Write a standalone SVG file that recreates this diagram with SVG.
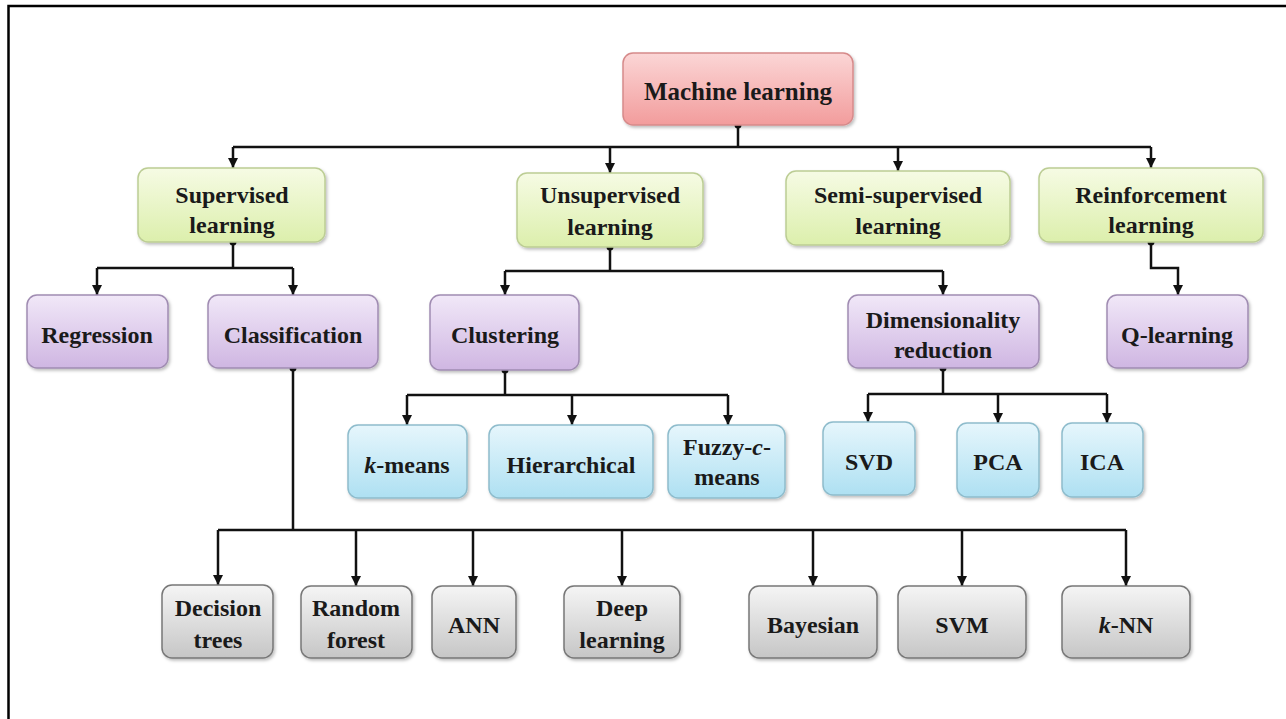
<svg xmlns="http://www.w3.org/2000/svg" width="1286" height="719" viewBox="0 0 1286 719">
  <defs>
    <linearGradient id="gPink" x1="0" y1="0" x2="0" y2="1">
      <stop offset="0" stop-color="#fbd6d6"/>
      <stop offset="1" stop-color="#f29c9c"/>
    </linearGradient>
    <linearGradient id="gGreen" x1="0" y1="0" x2="0" y2="1">
      <stop offset="0" stop-color="#f6fbe4"/>
      <stop offset="1" stop-color="#dcefac"/>
    </linearGradient>
    <linearGradient id="gPurple" x1="0" y1="0" x2="0" y2="1">
      <stop offset="0" stop-color="#f1e8f8"/>
      <stop offset="1" stop-color="#cfb6e2"/>
    </linearGradient>
    <linearGradient id="gBlue" x1="0" y1="0" x2="0" y2="1">
      <stop offset="0" stop-color="#e6f6fc"/>
      <stop offset="1" stop-color="#aee0f2"/>
    </linearGradient>
    <linearGradient id="gGray" x1="0" y1="0" x2="0" y2="1">
      <stop offset="0" stop-color="#f5f5f5"/>
      <stop offset="1" stop-color="#c6c6c6"/>
    </linearGradient>
    <filter id="shadow" x="-10%" y="-10%" width="125%" height="130%">
      <feDropShadow dx="1.5" dy="2" stdDeviation="1.5" flood-color="#000" flood-opacity="0.25"/>
    </filter>
    <marker id="arrow" markerUnits="userSpaceOnUse" markerWidth="12" markerHeight="12" viewBox="0 0 12 12" refX="6" refY="11" orient="auto-start-reverse">
      <path d="M1,1 L11,1 L6,11 Z" fill="#111" transform="rotate(-90 6 6)"/>
    </marker>
    <marker id="tip" markerUnits="userSpaceOnUse" markerWidth="12" markerHeight="12" viewBox="0 0 12 12" refX="11" refY="6" orient="auto">
      <path d="M1,1 L11,6 L1,11 Z" fill="#111"/>
    </marker>
  </defs>
  <style>
    .box { stroke-width: 1.5; filter: url(#shadow); }
    .pink { fill: url(#gPink); stroke: #d68a8a; }
    .green { fill: url(#gGreen); stroke: #bccd94; }
    .purple { fill: url(#gPurple); stroke: #a08cb2; }
    .blue { fill: url(#gBlue); stroke: #8ebccc; }
    .gray { fill: url(#gGray); stroke: #777; }
    .lbl { font-family: "Liberation Serif", "Times New Roman", serif; font-weight: bold; font-size: 24px; fill: #1a1a1a; text-anchor: middle; }
    .it { font-style: italic; }
    .wire { fill: none; stroke: #111; stroke-width: 2.5; }
    .drop { fill: none; stroke: #111; stroke-width: 2.5; marker-end: url(#tip); }
    .dot { fill: #111; }
    .frame { fill: none; stroke: #000; stroke-width: 2.5; }
  </style>

  <!-- page frame (top and left edges) -->
  <path class="frame" d="M8.5,719 V6 H1286"/>

  <!-- connectors -->
  <g id="connectors">
    <!-- machine learning to the four paradigms -->
    <path class="wire" d="M738,125 V147 M233,147 H1151"/>
    <path class="drop" d="M233,147 V168"/>
    <path class="drop" d="M610,147 V173"/>
    <path class="drop" d="M898,147 V171"/>
    <path class="drop" d="M1151,147 V168"/>
    <!-- supervised -->
    <path class="wire" d="M233,242 V268 M97,268 H293"/>
    <path class="drop" d="M97,268 V295"/>
    <path class="drop" d="M293,268 V295"/>
    <!-- unsupervised -->
    <path class="wire" d="M610,247 V271 M505,271 H943"/>
    <path class="drop" d="M505,271 V295"/>
    <path class="drop" d="M943,271 V295"/>
    <!-- reinforcement -->
    <path class="drop" d="M1151,242 V268 H1178 V295"/>
    <!-- clustering -->
    <path class="wire" d="M505,370 V395 M407,395 H728"/>
    <path class="drop" d="M407,395 V425"/>
    <path class="drop" d="M572,395 V425"/>
    <path class="drop" d="M728,395 V425"/>
    <!-- dimensionality reduction -->
    <path class="wire" d="M943,368 V394 M868,394 H1107"/>
    <path class="drop" d="M868,394 V422"/>
    <path class="drop" d="M998,394 V423"/>
    <path class="drop" d="M1107,394 V423"/>
    <!-- classification -->
    <path class="wire" d="M293,368 V530 M218,530 H1126"/>
    <path class="drop" d="M218,530 V585"/>
    <path class="drop" d="M356,530 V586"/>
    <path class="drop" d="M473,530 V586"/>
    <path class="drop" d="M622,530 V586"/>
    <path class="drop" d="M813,530 V586"/>
    <path class="drop" d="M962,530 V586"/>
    <path class="drop" d="M1126,530 V586"/>
    <!-- start dots -->
    <circle class="dot" cx="738" cy="125" r="3.5"/>
    <circle class="dot" cx="233" cy="242" r="3.5"/>
    <circle class="dot" cx="610" cy="247" r="3.5"/>
    <circle class="dot" cx="1151" cy="242" r="3.5"/>
    <circle class="dot" cx="505" cy="370" r="3.5"/>
    <circle class="dot" cx="943" cy="368" r="3.5"/>
    <circle class="dot" cx="293" cy="368" r="3.5"/>
  </g>

  <!-- root -->
  <g id="machine-learning">
    <rect class="box pink" x="623" y="53" width="230" height="72" rx="10"/>
    <text class="lbl" x="738" y="100" style="font-size:25px">Machine learning</text>
  </g>

  <!-- paradigms -->
  <g id="supervised">
    <rect class="box green" x="138" y="168" width="187" height="74" rx="10"/>
    <text class="lbl" x="232" y="203">Supervised</text>
    <text class="lbl" x="232" y="233">learning</text>
  </g>
  <g id="unsupervised">
    <rect class="box green" x="517" y="173" width="186" height="74" rx="10"/>
    <text class="lbl" x="610" y="203">Unsupervised</text>
    <text class="lbl" x="610" y="235">learning</text>
  </g>
  <g id="semi-supervised">
    <rect class="box green" x="786" y="171" width="224" height="74" rx="10"/>
    <text class="lbl" x="898" y="203">Semi-supervised</text>
    <text class="lbl" x="898" y="234">learning</text>
  </g>
  <g id="reinforcement">
    <rect class="box green" x="1039" y="168" width="224" height="74" rx="10"/>
    <text class="lbl" x="1151" y="203">Reinforcement</text>
    <text class="lbl" x="1151" y="233">learning</text>
  </g>

  <!-- task families -->
  <g id="regression">
    <rect class="box purple" x="27" y="295" width="141" height="73" rx="10"/>
    <text class="lbl" x="97" y="343">Regression</text>
  </g>
  <g id="classification">
    <rect class="box purple" x="208" y="295" width="170" height="73" rx="10"/>
    <text class="lbl" x="293" y="343">Classification</text>
  </g>
  <g id="clustering">
    <rect class="box purple" x="430" y="295" width="149" height="75" rx="10"/>
    <text class="lbl" x="505" y="343">Clustering</text>
  </g>
  <g id="dimensionality-reduction">
    <rect class="box purple" x="848" y="295" width="191" height="73" rx="10"/>
    <text class="lbl" x="943" y="328">Dimensionality</text>
    <text class="lbl" x="943" y="358">reduction</text>
  </g>
  <g id="q-learning">
    <rect class="box purple" x="1107" y="295" width="141" height="73" rx="10"/>
    <text class="lbl" x="1177" y="343">Q-learning</text>
  </g>

  <!-- clustering methods -->
  <g id="k-means">
    <rect class="box blue" x="348" y="425" width="119" height="73" rx="10"/>
    <text class="lbl" x="407" y="473"><tspan class="it">k</tspan>-means</text>
  </g>
  <g id="hierarchical">
    <rect class="box blue" x="489" y="425" width="164" height="73" rx="10"/>
    <text class="lbl" x="571" y="473">Hierarchical</text>
  </g>
  <g id="fuzzy-c-means">
    <rect class="box blue" x="668" y="425" width="117" height="73" rx="10"/>
    <text class="lbl" x="727" y="455">Fuzzy-<tspan class="it">c</tspan>-</text>
    <text class="lbl" x="727" y="485">means</text>
  </g>

  <!-- dimensionality reduction methods -->
  <g id="svd">
    <rect class="box blue" x="823" y="422" width="92" height="73" rx="10"/>
    <text class="lbl" x="869" y="470">SVD</text>
  </g>
  <g id="pca">
    <rect class="box blue" x="957" y="423" width="82" height="74" rx="10"/>
    <text class="lbl" x="998" y="470">PCA</text>
  </g>
  <g id="ica">
    <rect class="box blue" x="1062" y="423" width="81" height="74" rx="10"/>
    <text class="lbl" x="1102" y="470">ICA</text>
  </g>

  <!-- classification methods -->
  <g id="decision-trees">
    <rect class="box gray" x="162" y="585" width="111" height="73" rx="10"/>
    <text class="lbl" x="218" y="616">Decision</text>
    <text class="lbl" x="218" y="648">trees</text>
  </g>
  <g id="random-forest">
    <rect class="box gray" x="301" y="586" width="111" height="72" rx="10"/>
    <text class="lbl" x="356" y="616">Random</text>
    <text class="lbl" x="356" y="648">forest</text>
  </g>
  <g id="ann">
    <rect class="box gray" x="432" y="586" width="84" height="72" rx="10"/>
    <text class="lbl" x="474" y="633">ANN</text>
  </g>
  <g id="deep-learning">
    <rect class="box gray" x="564" y="586" width="116" height="72" rx="10"/>
    <text class="lbl" x="622" y="616">Deep</text>
    <text class="lbl" x="622" y="648">learning</text>
  </g>
  <g id="bayesian">
    <rect class="box gray" x="749" y="586" width="128" height="72" rx="10"/>
    <text class="lbl" x="813" y="633">Bayesian</text>
  </g>
  <g id="svm">
    <rect class="box gray" x="898" y="586" width="128" height="72" rx="10"/>
    <text class="lbl" x="962" y="633">SVM</text>
  </g>
  <g id="k-nn">
    <rect class="box gray" x="1062" y="586" width="128" height="72" rx="10"/>
    <text class="lbl" x="1126" y="633"><tspan class="it">k</tspan>-NN</text>
  </g>
</svg>
